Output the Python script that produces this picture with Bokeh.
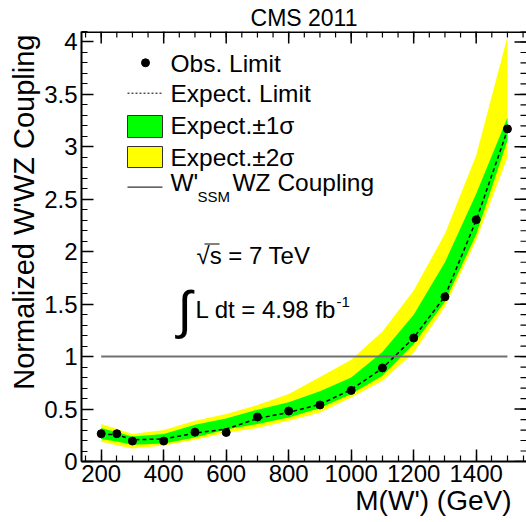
import math
from bokeh.plotting import figure
from bokeh.models import Range1d, FixedTicker, NumeralTickFormatter, Title
from bokeh.embed import file_html
from bokeh.resources import INLINE
from bokeh.core.properties import value

# ---------------- data ----------------
mass = [200, 250, 300, 400, 500, 600, 700, 800, 900, 1000, 1100, 1200, 1300, 1400, 1500]
obs_limit = [0.265, 0.265, 0.195, 0.195, 0.280, 0.277, 0.424, 0.481, 0.539, 0.678, 0.892, 1.178, 1.570, 2.305, 3.171]
exp_limit = [0.260, 0.255, 0.208, 0.214, 0.270, 0.310, 0.410, 0.468, 0.545, 0.685, 0.890, 1.180, 1.575, 2.300, 3.160]
exp_1s_up = [0.319, 0.280, 0.239, 0.262, 0.351, 0.411, 0.494, 0.564, 0.670, 0.800, 1.045, 1.400, 1.900, 2.554, 3.280]
exp_1s_dn = [0.214, 0.190, 0.160, 0.172, 0.229, 0.306, 0.357, 0.420, 0.510, 0.644, 0.818, 1.120, 1.525, 2.165, 3.063]
exp_2s_up = [0.357, 0.310, 0.262, 0.300, 0.389, 0.453, 0.539, 0.644, 0.805, 0.970, 1.240, 1.630, 2.172, 2.920, 4.050]
exp_2s_dn = [0.188, 0.156, 0.124, 0.153, 0.207, 0.274, 0.319, 0.389, 0.468, 0.611, 0.771, 1.040, 1.475, 2.110, 2.900]
ssm_coupling = 1.0

x_ticks = [200, 400, 600, 800, 1000, 1200, 1400]
x_minor = list(range(150, 1551, 50))
y_ticks = [0, 0.5, 1, 1.5, 2, 2.5, 3, 3.5, 4]
y_minor = [round(0.1 * i, 1) for i in range(0, 42)]

legend_labels = ["Obs. Limit", "Expect. Limit", "Expect.\u00b11\u03c3", "Expect.\u00b12\u03c3"]
ssm_label = ["W'", "SSM", "WZ Coupling"]
title_text = "CMS 2011"
x_title = "M(W') (GeV)"
y_title = "Normalized W'WZ Coupling"
sqrt_text = "\u221as = 7 TeV"
lumi_text = "L dt = 4.98 fb"
lumi_sup = "-1"

FONT = "Liberation Sans"
YELLOW = "#ffff00"
GREEN = "#00ff00"

# ---------------- layout (canvas pixels) ----------------
W, H = 526, 522
FRAME_L, FRAME_T = 81, 31
FRAME_B = 461
FW, FH = W - FRAME_L, FRAME_B - FRAME_T
X0 = 137.0
X1 = X0 + FW / 0.3125
Y0, Y1 = 0.0, 4.1


def dx(px):
    return X0 + (px - FRAME_L) * (X1 - X0) / FW


def dy(py):
    return Y1 - (py - FRAME_T) * (Y1 - Y0) / FH


p = figure(width=W, height=H,
           x_range=Range1d(X0, X1), y_range=Range1d(Y0, Y1),
           output_backend="svg", toolbar_location=None,
           min_border_left=FRAME_L, min_border_top=FRAME_T,
           min_border_right=0, min_border_bottom=H - FRAME_B)
p.outline_line_color = None
p.xgrid.visible = False
p.ygrid.visible = False
p.background_fill_color = "white"
p.border_fill_color = "white"

# title
p.title.text = title_text
p.title.text_font = FONT
p.title.text_font_size = "23px"
p.title.text_font_style = "normal"
p.title.text_color = "black"
p.title.align = "center"
p.title.offset = 4
p.title.standoff = 2

# ---------------- axes ----------------
def style_axis(ax, ticks, minor):
    ax.ticker = FixedTicker(ticks=ticks, minor_ticks=minor)
    ax.major_tick_in = 12
    ax.major_tick_out = 0
    ax.minor_tick_in = 6
    ax.minor_tick_out = 0
    ax.major_tick_line_width = 1.5
    ax.minor_tick_line_width = 1.2
    ax.major_tick_line_color = "black"
    ax.minor_tick_line_color = "black"
    ax.axis_line_width = 2
    ax.axis_line_color = "black"
    ax.major_label_text_font = FONT
    ax.major_label_text_font_size = "24px"
    ax.major_label_text_color = "black"
    ax.major_label_text_line_height = 1.0


xa = p.xaxis[0]
style_axis(xa, x_ticks, x_minor)
xa.major_label_standoff = 3
ya = p.yaxis[0]
style_axis(ya, y_ticks, y_minor)
ya.major_label_standoff = 4
ya.formatter = NumeralTickFormatter(format="0.[0]")

# axis titles (right/top aligned, as in ROOT)
x_t = Title(text=x_title, align="right", offset=15, vertical_align="top", standoff=0,
            text_font=FONT, text_font_size="28px", text_font_style="normal", text_color="black")
p.add_layout(x_t, "below")
y_t = Title(text=y_title, align="right", offset=3, vertical_align="bottom", standoff=3,
            text_font=FONT, text_font_size="29px", text_font_style="normal", text_color="black")
p.add_layout(y_t, "left")

# mirrored ticks on the top and right frame edges
px_y = (Y1 - Y0) / FH
px_x = (X1 - X0) / FW
p.segment(x0=x_ticks, y0=[Y1] * len(x_ticks), x1=x_ticks, y1=[Y1 - 12 * px_y] * len(x_ticks),
          line_color="black", line_width=1.5)
p.segment(x0=x_minor, y0=[Y1] * len(x_minor), x1=x_minor, y1=[Y1 - 6 * px_y] * len(x_minor),
          line_color="black", line_width=1.2)
p.segment(x0=[X1] * len(y_ticks), y0=y_ticks, x1=[X1 - 12 * px_x] * len(y_ticks), y1=y_ticks,
          line_color="black", line_width=1.5)
p.segment(x0=[X1] * len(y_minor), y0=y_minor, x1=[X1 - 6 * px_x] * len(y_minor), y1=y_minor,
          line_color="black", line_width=1.2)
p.line(x=[X0, X1], y=[Y1, Y1], line_color="black", line_width=3)

# ---------------- data marks ----------------
p.varea(x=mass, y1=exp_2s_dn, y2=exp_2s_up, color=YELLOW)
p.varea(x=mass, y1=exp_1s_dn, y2=exp_1s_up, color=GREEN)
p.line(x=mass, y=exp_limit, line_color="black", line_width=1.5, line_dash="4 3")
p.line(x=[mass[0], mass[-1]], y=[ssm_coupling, ssm_coupling], line_color="#707070", line_width=2)
p.scatter(x=mass, y=obs_limit, size=8, color="black")

# ---------------- legend (drawn by hand) ----------------
LEG_FS = "24.5px"
sw_l, sw_r = dx(127), dx(162)
text_x = dx(170)
rows = [63, 93, 125, 157]
p.scatter(x=[dx(145)], y=[dy(62.3)], size=8, color="black")
p.line(x=[sw_l, sw_r], y=[dy(92.7), dy(92.7)], line_color="black", line_width=1, line_dash="2 2")
p.quad(left=[sw_l], right=[sw_r], top=[dy(115)], bottom=[dy(137)], fill_color=GREEN, line_color="#333333", line_width=1)
p.quad(left=[sw_l], right=[sw_r], top=[dy(146)], bottom=[dy(167)], fill_color=YELLOW, line_color="#333333", line_width=1)
p.line(x=[sw_l, sw_r], y=[dy(186.7), dy(186.7)], line_color="#333333", line_width=1.2)
p.text(x=[text_x] * 4, y=[dy(r) for r in rows], text=legend_labels,
       text_font=value(FONT), text_font_size=value(LEG_FS), text_color="black",
       text_align="left", text_baseline="middle")
p.text(x=[dx(170), dx(232)], y=[dy(182), dy(182)], text=[ssm_label[0], ssm_label[2]],
       text_font=value(FONT), text_font_size=value(LEG_FS), text_color="black",
       text_align="left", text_baseline="middle")
p.text(x=[dx(197)], y=[dy(196)], text=[ssm_label[1]],
       text_font=value(FONT), text_font_size=value("15px"), text_color="black",
       text_align="left", text_baseline="middle")

# ---------------- annotations ----------------
p.text(x=[dx(196)], y=[dy(255)], text=[sqrt_text],
       text_font=value(FONT), text_font_size=value("24px"), text_color="black",
       text_align="left", text_baseline="middle")
p.segment(x0=[dx(204)], y0=[dy(243.5)], x1=[dx(219)], y1=[dy(243.5)], line_color="black", line_width=1.2)
p.text(x=[dx(184)], y=[dy(309)], text=["\u222b"],
       text_font=value(FONT), text_font_size=value("52px"), text_color="black",
       text_align="center", text_baseline="middle")
p.text(x=[dx(195)], y=[dy(309)], text=[lumi_text],
       text_font=value(FONT), text_font_size=value("24px"), text_color="black",
       text_align="left", text_baseline="middle")
p.text(x=[dx(336)], y=[dy(301)], text=[lumi_sup],
       text_font=value(FONT), text_font_size=value("15px"), text_color="black",
       text_align="left", text_baseline="middle")

open("out.html", "w").write(file_html(p, INLINE))
